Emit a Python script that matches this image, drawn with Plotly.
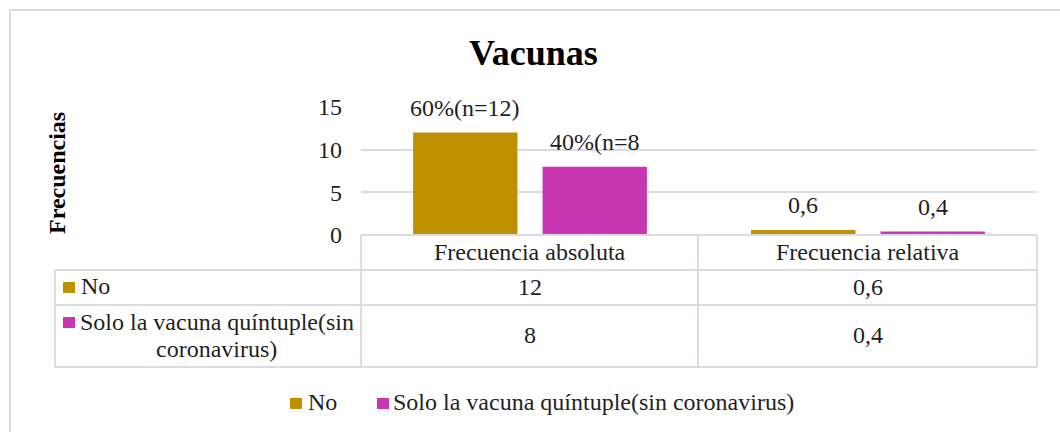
import plotly.graph_objects as go

# ---------------- data ----------------
title = "Vacunas"
y_title = "Frecuencias"
categories = ["Frecuencia absoluta", "Frecuencia relativa"]
series_names = ["No", "Solo la vacuna quíntuple(sin coronavirus)"]
values_no = [12, 0.6]
values_solo = [8, 0.4]
labels_no = ["60%(n=12)", "0,6"]
labels_solo = ["40%(n=8", "0,4"]
table_no = ["12", "0,6"]
table_solo = ["8", "0,4"]
y_ticks = [0, 5, 10, 15]

# ---------------- style ----------------
W, H = 1060, 432
FONT = "Liberation Serif, Times New Roman, serif"
C_NO = "#BF9000"
C_SOLO = "#C837B1"
GRID = "#D9DDE3"
TXT = "#1F1F1F"
FS = 24
BARGAP = 0.234
BARGROUPGAP = 0.194


def px(x):
    return x / W


def py(y):
    return 1 - y / H


fig = go.Figure()
series = [
    (series_names[0], values_no, labels_no, C_NO),
    (series_names[1], values_solo, labels_solo, C_SOLO),
]
for name, vals, labs, col in series:
    fig.add_trace(go.Bar(
        x=categories, y=vals, name=name,
        marker=dict(color=col, line=dict(width=0)),
        showlegend=False, hoverinfo="x+y+name",
    ))

shapes = []
annotations = []

# data labels above bars (positions derived from values and group layout)
slot = (1 - BARGAP) / len(series)
for si, (name, vals, labs, col) in enumerate(series):
    off = -((1 - BARGAP) / 2) + slot * (si + 0.5)
    for ci, (v, lab) in enumerate(zip(vals, labs)):
        annotations.append(dict(
            x=ci + off, y=v, xref="x", yref="y", text=lab, showarrow=False,
            yanchor="bottom", xanchor="center", yshift=10,
            font=dict(family=FONT, size=FS, color=TXT),
        ))

# title
annotations.append(dict(
    x=px(533), y=py(53), xref="paper", yref="paper", text=f"<b>{title}</b>",
    showarrow=False, xanchor="center", yanchor="middle",
    font=dict(family=FONT, size=36, color="#000000"),
))
# y axis title
annotations.append(dict(
    x=px(57), y=py(173), xref="paper", yref="paper", text=f"<b>{y_title}</b>",
    showarrow=False, xanchor="center", yanchor="middle", textangle=-90,
    font=dict(family=FONT, size=FS, color="#000000"),
))

# ---- data table ----
L_TABLE, X_PLOT, X_MID, X_RIGHT = 55, 361, 698, 1037
Y_TOP, Y_R1, Y_R2, Y_BOT = 235, 270, 305, 367
lc = dict(color=GRID, width=2)


def hline(x0, x1, y):
    shapes.append(dict(type="line", xref="paper", yref="paper",
                       x0=px(x0), x1=px(x1), y0=py(y), y1=py(y), line=lc))


def vline(x, y0, y1):
    shapes.append(dict(type="line", xref="paper", yref="paper",
                       x0=px(x), x1=px(x), y0=py(y0), y1=py(y1), line=lc))


hline(X_PLOT, X_RIGHT, Y_TOP)
hline(L_TABLE, X_RIGHT, Y_R1)
hline(L_TABLE, X_RIGHT, Y_R2)
hline(L_TABLE, X_RIGHT, Y_BOT)
vline(L_TABLE, Y_R1, Y_BOT)
vline(X_PLOT, Y_TOP, Y_BOT)
vline(X_MID, Y_TOP, Y_BOT)
vline(X_RIGHT, Y_TOP, Y_BOT)

# header (category names) centred on category positions
for cat in categories:
    annotations.append(dict(
        x=cat, y=py(252), xref="x", yref="paper", text=cat, showarrow=False,
        xanchor="center", yanchor="middle",
        font=dict(family=FONT, size=FS, color=TXT),
    ))
# values
for cat, a, b in zip(categories, table_no, table_solo):
    for t, yc in ((a, 287), (b, 335)):
        annotations.append(dict(
            x=cat, y=py(yc), xref="x", yref="paper", text=t, showarrow=False,
            xanchor="center", yanchor="middle",
            font=dict(family=FONT, size=FS, color=TXT),
        ))


def key(x, y, col):
    shapes.append(dict(type="rect", xref="paper", yref="paper",
                       x0=px(x), x1=px(x + 12), y0=py(y), y1=py(y + 11),
                       fillcolor=col, line=dict(width=0)))


# row headers
key(63, 282, C_NO)
annotations.append(dict(
    x=px(79), y=py(286), xref="paper", yref="paper", text=series_names[0],
    showarrow=False, xanchor="left", yanchor="middle",
    font=dict(family=FONT, size=FS, color=TXT),
))
key(63, 317, C_SOLO)
line1, line2 = series_names[1].rsplit(" ", 1)
for t, yc in ((line1, 322), (line2, 349)):
    annotations.append(dict(
        x=px(216.5), y=py(yc), xref="paper", yref="paper", text=t,
        showarrow=False, xanchor="center", yanchor="middle",
        font=dict(family=FONT, size=FS, color=TXT),
    ))

# ---- bottom legend ----
for (name, col), (kx, tx) in zip(zip(series_names, [C_NO, C_SOLO]),
                                 [(290, 306), (377, 391)]):
    key(kx, 398, col)
    annotations.append(dict(
        x=px(tx), y=py(402), xref="paper", yref="paper", text=name,
        showarrow=False, xanchor="left", yanchor="middle",
        font=dict(family=FONT, size=FS, color=TXT),
    ))

# outer chart border
shapes.append(dict(type="rect", xref="paper", yref="paper",
                   x0=px(10), x1=px(1075), y0=py(10), y1=py(447),
                   line=dict(color=GRID, width=2), fillcolor="rgba(0,0,0,0)",
                   layer="below"))

fig.update_layout(
    width=W, height=H, autosize=False,
    margin=dict(l=0, r=0, t=0, b=0, pad=0, autoexpand=False),
    paper_bgcolor="white", plot_bgcolor="white",
    barmode="group", bargap=BARGAP, bargroupgap=BARGROUPGAP,
    font=dict(family=FONT, size=FS, color=TXT),
    showlegend=False,
    xaxis=dict(domain=[px(X_PLOT), px(X_RIGHT)], showticklabels=False,
               showgrid=False, zeroline=False, showline=False, ticks="",
               fixedrange=True, automargin=False),
    yaxis=dict(domain=[py(Y_TOP), py(107)], range=[0, 15], tickvals=y_ticks,
               showgrid=True, gridcolor=GRID, gridwidth=2, zeroline=False,
               showline=False, ticks="", ticklabelstandoff=18,
               tickfont=dict(family=FONT, size=FS, color=TXT), fixedrange=True,
               automargin=False),
    shapes=shapes, annotations=annotations,
)

fig.write_html(
    "out.html",
    config={"displayModeBar": False},
    post_script="document.body.style.margin='0';document.body.style.overflow='hidden';",
)
